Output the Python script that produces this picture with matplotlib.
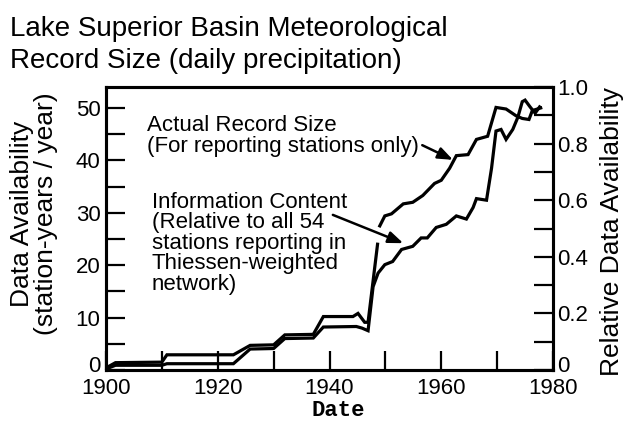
import numpy as np
import matplotlib
matplotlib.use("Agg")
import matplotlib.pyplot as plt
from matplotlib.transforms import ScaledTranslation

# ---- data ----
actual_years = [1900.0, 1901.7, 1910.0, 1910.9, 1922.8, 1925.8, 1930.0, 1932.0, 1937.1,
                1938.9, 1944.2, 1945.1, 1946.3, 1946.9, 1948.6, np.nan, 1949.0, 1949.9,
                1951.1, 1953.2, 1954.9, 1956.7, 1958.8, 1960.0, 1961.5, 1962.7, 1964.8,
                1966.3, 1968.3, 1969.8, 1971.6, 1973.4, 1974.5, 1975.7, 1976.3, 1977.8]
actual_values = [0.4, 1.4, 1.5, 2.9, 2.9, 4.7, 4.8, 6.7, 6.8,
                 10.2, 10.2, 10.8, 9.1, 9.1, 24.0, np.nan, 27.5, 29.4,
                 29.8, 31.7, 32.0, 33.3, 35.6, 36.2, 38.5, 40.9, 41.1,
                 44.0, 44.6, 50.1, 49.8, 48.5, 48.0, 47.8, 49.5, 50.0]

info_years = [1900.0, 1901.7, 1910.0, 1910.9, 1922.8, 1925.8, 1930.0, 1932.0, 1937.1,
              1938.9, 1944.8, 1945.8, 1946.9, 1947.8, 1948.7, 1949.9, 1951.3, 1952.9,
              1954.9, 1956.4, 1957.5, 1959.1, 1960.9, 1962.7, 1964.5, 1965.7, 1966.3,
              1968.1, 1969.0, 1969.8, 1970.7, 1971.6, 1972.8, 1973.7, 1974.5, 1975.0,
              1975.9, 1976.8, 1977.6]
info_values = [0.2, 0.9, 0.9, 1.2, 1.2, 4.0, 4.1, 6.0, 6.1,
               8.2, 8.3, 8.0, 7.5, 15.9, 18.5, 20.1, 20.7, 23.0,
               23.6, 25.2, 25.2, 27.2, 27.8, 29.4, 28.8, 31.0, 32.7,
               32.4, 38.5, 45.6, 45.9, 44.0, 45.9, 48.2, 51.2, 51.5,
               50.2, 49.0, 50.2]

total_stations = 54

x_ticks = [1900, 1910, 1920, 1930, 1940, 1950, 1960, 1970, 1980]
x_ticklabels = ["1900", "", "1920", "", "1940", "", "1960", "", "1980"]
left_ticks = [0, 5, 10, 15, 20, 25, 30, 35, 40, 45, 50]
left_ticklabels = ["0", "", "10", "", "20", "", "30", "", "40", "", "50"]
right_ticks = [0, 0.1, 0.2, 0.3, 0.4, 0.5, 0.6, 0.7, 0.8, 0.9, 1.0]
right_ticklabels = ["0", "", "0.2", "", "0.4", "", "0.6", "", "0.8", "", "1.0"]

title = "Lake Superior Basin Meteorological\nRecord Size (daily precipitation)"
left_label = "Data Availability\n(station-years / year)"
right_label = "Relative Data Availability"
x_label = "Date"
note_actual = "Actual Record Size\n(For reporting stations only)"
note_info = ("Information Content\n(Relative to all 54\nstations reporting in\n"
             "Thiessen-weighted\nnetwork)")

# ---- figure ----
plt.rcParams['font.family'] = ['Liberation Sans', 'DejaVu Sans']
W, H = 625, 426
fig = plt.figure(figsize=(W / 100, H / 100), dpi=100)
ax = fig.add_axes([106 / W, 1 - 370 / H, (553 - 106) / W, (370 - 87) / H])

lw = 2.3
ax.plot(actual_years, actual_values, color='black', lw=lw, solid_joinstyle='miter')
ax.plot(info_years, info_values, color='black', lw=lw, solid_joinstyle='miter')

ax.set_xlim(1900, 1980)
ax.set_ylim(0, total_stations)
ax.set_xticks(x_ticks)
ax.set_xticklabels(x_ticklabels)
ax.set_yticks(left_ticks)
ax.set_yticklabels(left_ticklabels)

for s in ax.spines.values():
    s.set_linewidth(2.2)

ax.tick_params(axis='both', direction='in', length=14, width=1.6, labelsize=16,
               color='black')
ax.tick_params(axis='x', pad=6)
ax.tick_params(axis='y', pad=4)

ax2 = ax.twinx()
ax2.set_ylim(0, 1.0)
ax2.set_yticks(right_ticks)
ax2.set_yticklabels(right_ticklabels)
ax2.tick_params(axis='y', direction='in', length=14, width=1.6, labelsize=16, pad=3)
for s in ax2.spines.values():
    s.set_linewidth(2.2)

# lift the two "0" labels a little so they sit above the year labels
lift = ScaledTranslation(0, 6 / 100, fig.dpi_scale_trans)
for lab in (ax.get_yticklabels()[0], ax2.get_yticklabels()[0]):
    lab.set_transform(lab.get_transform() + lift)

# annotations
ax.text(1907.3, 48.6, note_actual, fontsize=16, ha='left', va='top', linespacing=0.97)
ax.annotate("", xy=(1962.1, 40.1), xytext=(1956.6, 42.9),
            arrowprops=dict(arrowstyle='-|>,head_length=0.9,head_width=0.35',
                            color='black', lw=1.8, shrinkA=0, shrinkB=0))
ax.text(1908.2, 34.0, note_info, fontsize=16, ha='left', va='top', linespacing=0.97)
ax.annotate("", xy=(1953.2, 24.2), xytext=(1940.6, 29.6),
            arrowprops=dict(arrowstyle='-|>,head_length=0.9,head_width=0.35',
                            color='black', lw=1.8, shrinkA=0, shrinkB=0))

# labels
fig.text(10 / W, 1 - 16 / H, title, fontsize=20, ha='left', va='top', linespacing=1.3)
fig.text(34 / W, 1 - 214 / H, left_label, fontsize=19, rotation=90, ha='center',
         va='center', multialignment='center', linespacing=1.0)
fig.text(612 / W, 1 - 231 / H, right_label, fontsize=19, rotation=90, ha='center',
         va='center')
fig.text(338 / W, 1 - 410 / H, x_label, fontsize=16, fontweight='bold',
         family=['Liberation Mono', 'DejaVu Sans Mono'], ha='center', va='center')

fig.savefig("out.png", dpi=100)
